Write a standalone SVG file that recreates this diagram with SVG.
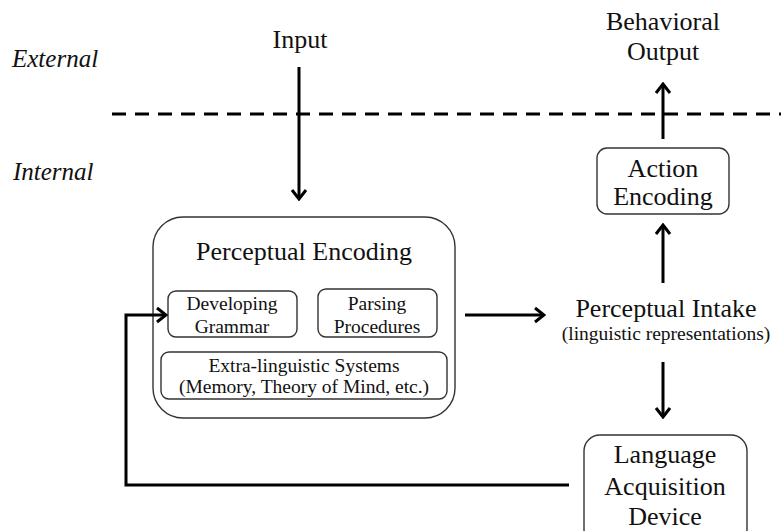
<svg xmlns="http://www.w3.org/2000/svg" width="781" height="531" viewBox="0 0 781 531">
<style>
text{font-family:"Liberation Serif","Times New Roman",serif;fill:#111;text-anchor:middle}
.lbl{font-size:26px}
.sm{font-size:19.5px}
.it{font-style:italic;font-size:25px;text-anchor:start}
.box{fill:none;stroke:#333;stroke-width:1.4}
.con{fill:none;stroke:#000;stroke-width:3}
</style>
<defs>
<marker id="ah" viewBox="-12 -9 14 18" refX="0" refY="0" markerWidth="14" markerHeight="18" markerUnits="userSpaceOnUse" orient="auto">
<path d="M-9,-7 L0,0 L-9,7" fill="none" stroke="#000" stroke-width="3"/>
</marker>
</defs>
<g id="boundary">
<line x1="112" y1="114" x2="781" y2="114" stroke="#000" stroke-width="3" stroke-dasharray="14 9"/>
<text class="it" x="12" y="67">External</text>
<text class="it" x="13" y="180">Internal</text>
</g>
<g id="input"><text class="lbl" x="300" y="48">Input</text></g>
<g id="behavioral-output"><text class="lbl" x="663" y="30">Behavioral</text><text class="lbl" x="663" y="60">Output</text></g>
<g id="perceptual-encoding">
<rect class="box" x="153" y="217" width="302" height="201" rx="30"/>
<text class="lbl" x="304" y="260">Perceptual Encoding</text>
</g>
<g id="developing-grammar">
<rect class="box" x="168" y="291" width="129" height="46" rx="8"/>
<text class="sm" x="232" y="310">Developing</text><text class="sm" x="232" y="333">Grammar</text>
</g>
<g id="parsing-procedures">
<rect class="box" x="318" y="289" width="119" height="48" rx="8"/>
<text class="sm" x="377" y="310">Parsing</text><text class="sm" x="377" y="333">Procedures</text>
</g>
<g id="extra-linguistic">
<rect class="box" x="161" y="352" width="286" height="47" rx="8"/>
<text class="sm" x="304" y="372">Extra-linguistic Systems</text><text class="sm" x="304" y="393">(Memory, Theory of Mind, etc.)</text>
</g>
<g id="perceptual-intake">
<text class="lbl" x="666" y="317">Perceptual Intake</text>
<text class="sm" x="666" y="340">(linguistic representations)</text>
</g>
<g id="action-encoding">
<rect class="box" x="597" y="148" width="132" height="66" rx="10"/>
<text class="lbl" x="663" y="177">Action</text><text class="lbl" x="663" y="205">Encoding</text>
</g>
<g id="lad">
<rect class="box" x="584" y="435" width="163" height="110" rx="16"/>
<text class="lbl" x="665" y="463">Language</text><text class="lbl" x="665" y="495">Acquisition</text><text class="lbl" x="665" y="525">Device</text>
</g>
<g id="connectors">
<line class="con" x1="299" y1="67" x2="299" y2="199" marker-end="url(#ah)"/>
<line class="con" x1="663" y1="139" x2="663" y2="84" marker-end="url(#ah)"/>
<line class="con" x1="663" y1="283" x2="663" y2="225" marker-end="url(#ah)"/>
<line class="con" x1="465" y1="315" x2="544" y2="315" marker-end="url(#ah)"/>
<line class="con" x1="663" y1="362" x2="663" y2="417" marker-end="url(#ah)"/>
<path class="con" d="M569,485 H126 V315 H166" marker-end="url(#ah)"/>
</g>
</svg>
